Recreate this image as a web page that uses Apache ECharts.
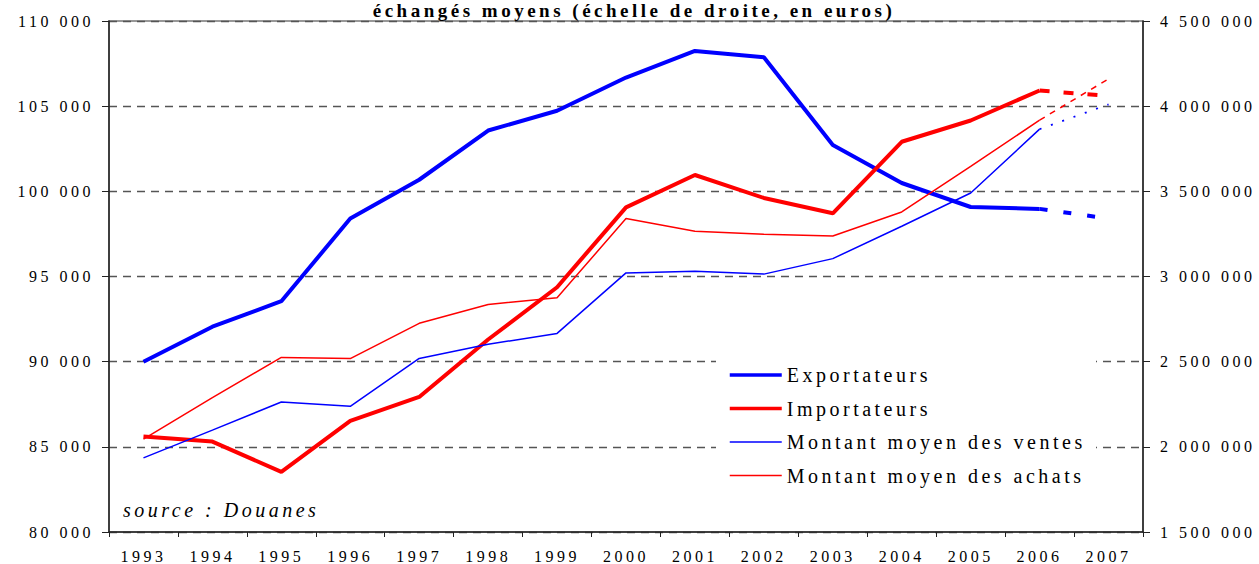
<!DOCTYPE html>
<html>
<head>
<meta charset="utf-8">
<script src="https://cdn.jsdelivr.net/npm/echarts@6.0.0/dist/echarts.min.js"></script>
<style>
  html, body { margin: 0; padding: 0; background: #fff; }
  #operateursChart { width: 1259px; height: 564px; }
  #operateursChart text { letter-spacing: 3.5px; }
</style>
</head>
<body>
<div id="operateursChart"></div>
<script>
// années
const years = ['1993', '1994', '1995', '1996', '1997', '1998', '1999', '2000',
  '2001', '2002', '2003', '2004', '2005', '2006', '2007'];

// nombre d'opérateurs (échelle de gauche)
const exportateurs = [90000, 92050, 93550, 98400, 100680, 103570, 104730, 106680,
  108240, 107870, 102720, 100490, 99080, 98970, 98400];
const importateurs = [85600, 85310, 83530, 86520, 87930, 91300, 94370, 99060,
  100960, 99610, 98710, 102910, 104160, 105920, 105600];

// montants échangés moyens (échelle de droite, en euros)
const ventes = [1935000, 2098000, 2263000, 2238000, 2519000, 2602000, 2666000, 3021000,
  3031000, 3014000, 3105000, 3295000, 3490000, 3865000, 4010000];
const achats = [2045000, 2289000, 2525000, 2518000, 2725000, 2836000, 2875000, 3340000,
  3266000, 3248000, 3238000, 3379000, 3646000, 3918000, 4160000];

// 2007 : trait pointillé à partir de 2006
const lastSolid = 13;
function solidPart(arr) {
  return arr.map(function (v, i) { return i <= lastSolid ? v : null; });
}
function dashPart(arr) {
  return arr.map(function (v, i) { return i >= lastSolid ? v : null; });
}
function fmt(v) {
  return String(v).replace(/\B(?=(\d{3})+(?!\d))/g, ' ');
}

const serif = '"Liberation Serif", "Times New Roman", serif';
const blue = '#0000ff';
const red = '#ff0000';

// légende : trait seul, sans symbole
function legendItem(name, color, width) {
  return { name: name, itemStyle: { opacity: 0 }, lineStyle: { color: color, width: width } };
}

const charts = echarts.init(document.getElementById('operateursChart'), null, { renderer: 'svg' });
const option = {
  animation: false,
  backgroundColor: '#fff',
  grid: {
    left: 109,
    right: 116,
    top: 21,
    bottom: 31,
    show: true,
    borderColor: '#777',
    borderWidth: 1.5
  },
  legend: {
    orient: 'vertical',
    left: 728,
    top: 365,
    padding: 0,
    itemWidth: 52,
    itemHeight: 20,
    itemGap: 13.5,
    textStyle: { fontFamily: serif, fontSize: 20, color: '#000', lineHeight: 20 },
    data: [
      legendItem('Exportateurs', blue, 3.5),
      legendItem('Importateurs', red, 3.5),
      legendItem('Montant moyen des ventes', blue, 1.5),
      legendItem('Montant moyen des achats', red, 1.5)
    ]
  },
  graphic: [
    {
      type: 'rect',
      z: 3,
      shape: { x: 716, y: 356, width: 380, height: 140 },
      style: { fill: '#fff' }
    },
    {
      type: 'text',
      z: 5,
      x: 634,
      y: 10,
      style: {
        text: 'échangés moyens (échelle de droite, en euros)',
        font: 'bold 19px ' + serif,
        fill: '#000',
        align: 'center',
        verticalAlign: 'middle'
      }
    },
    {
      type: 'text',
      z: 5,
      x: 123,
      y: 510,
      style: {
        text: 'source : Douanes',
        font: 'italic 20px ' + serif,
        fill: '#000',
        align: 'left',
        verticalAlign: 'middle'
      }
    }
  ],
  xAxis: {
    type: 'category',
    data: years,
    boundaryGap: true,
    axisLine: { lineStyle: { color: '#222', width: 1.5 } },
    axisTick: { show: true, length: 5, lineStyle: { color: '#222' } },
    axisLabel: { margin: 16, fontFamily: serif, fontSize: 16, color: '#000', interval: 0 }
  },
  yAxis: [
    {
      type: 'value',
      min: 80000,
      max: 110000,
      interval: 5000,
      axisLine: { show: true, lineStyle: { color: '#222', width: 1.5 } },
      axisTick: { show: true, length: 7, lineStyle: { color: '#222' } },
      axisLabel: { margin: 15, fontFamily: serif, fontSize: 16, color: '#000', formatter: fmt },
      splitLine: { show: true, lineStyle: { color: '#555', width: 1.3, type: [8, 6] } }
    },
    {
      type: 'value',
      min: 1500000,
      max: 4500000,
      interval: 500000,
      position: 'right',
      axisLine: { show: true, lineStyle: { color: '#222', width: 1.5 } },
      axisTick: { show: true, length: 7, lineStyle: { color: '#222' } },
      axisLabel: { margin: 17, fontFamily: serif, fontSize: 16, color: '#000', formatter: fmt },
      splitLine: { show: false }
    }
  ],
  series: [
    {
      name: 'Exportateurs', type: 'line', yAxisIndex: 0, symbol: 'none',
      data: solidPart(exportateurs), lineStyle: { color: blue, width: 4 }, itemStyle: { color: blue }
    },
    {
      name: 'Importateurs', type: 'line', yAxisIndex: 0, symbol: 'none',
      data: solidPart(importateurs), lineStyle: { color: red, width: 4 }, itemStyle: { color: red }
    },
    {
      name: 'Montant moyen des ventes', type: 'line', yAxisIndex: 1, symbol: 'none',
      data: solidPart(ventes), lineStyle: { color: blue, width: 1.5 }, itemStyle: { color: blue }
    },
    {
      name: 'Montant moyen des achats', type: 'line', yAxisIndex: 1, symbol: 'none',
      data: solidPart(achats), lineStyle: { color: red, width: 1.5 }, itemStyle: { color: red }
    },
    {
      name: 'Exportateurs', type: 'line', yAxisIndex: 0, symbol: 'none',
      data: dashPart(exportateurs), lineStyle: { color: blue, width: 4, type: [8, 16] }, itemStyle: { color: blue }
    },
    {
      name: 'Importateurs', type: 'line', yAxisIndex: 0, symbol: 'none',
      data: dashPart(importateurs), lineStyle: { color: red, width: 4, type: [10, 14] }, itemStyle: { color: red }
    },
    {
      name: 'Montant moyen des ventes', type: 'line', yAxisIndex: 1, symbol: 'none',
      data: dashPart(ventes), lineStyle: { color: blue, width: 1.8, type: [2, 10] }, itemStyle: { color: blue }
    },
    {
      name: 'Montant moyen des achats', type: 'line', yAxisIndex: 1, symbol: 'none',
      data: dashPart(achats), lineStyle: { color: red, width: 1.5, type: [6, 6] }, itemStyle: { color: red }
    }
  ]
};
charts.setOption(option);
</script>
</body>
</html>
